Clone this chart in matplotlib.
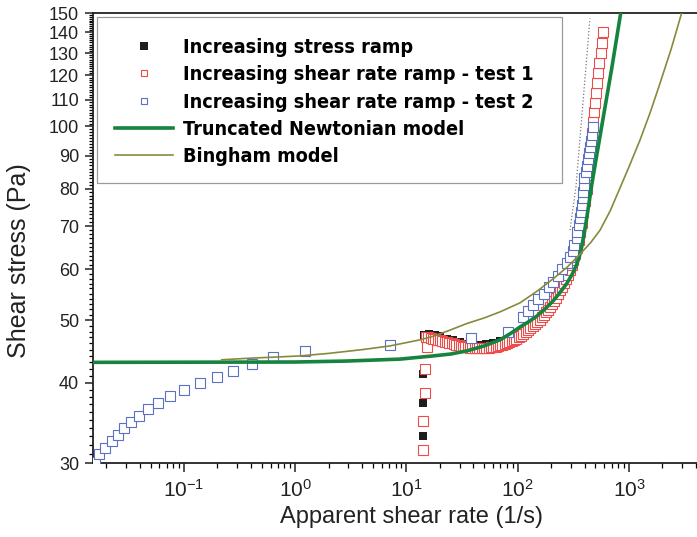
"""
Shear stress vs apparent shear rate (log-log), ramp tests and model fits
"""
import matplotlib

matplotlib.use("Agg")
import matplotlib.pyplot as plt
from matplotlib import font_manager as fm
from matplotlib.lines import Line2D
from matplotlib.patches import Rectangle
from matplotlib.ticker import LogLocator, LogFormatterSciNotation, NullFormatter

plt.rcParams["font.family"] = ["Liberation Sans", "DejaVu Sans"]

# increasing stress ramp (filled black squares)
stress_x = [14.1, 14.1, 14.2, 14.5, 16.0, 18.0, 20.0, 23.0, 26.0, 30.0, 34.0, 38.5, 45.0, 52.0, 60.0, 70.0, 85.0]
stress_y = [33.0, 37.2, 41.2, 47.5, 47.6, 47.4, 47.2, 46.8, 46.5, 46.2, 45.9, 45.6, 45.7, 45.85, 46.0, 46.4, 47.0]

# increasing shear rate ramp - test 1 (open red squares)
test1_x = [14.0, 14.2, 14.7, 14.7, 15.2,
           15.0, 15.7, 16.5, 17.3, 18.2, 19.1, 20.0, 21.0, 22.0, 23.1, 24.2, 25.4, 26.7, 28.0, 29.4,
           30.8, 32.3, 33.9, 35.6, 37.3, 39.2, 41.1, 43.1, 45.2, 47.4, 49.7, 52.2, 54.7, 57.4, 60.2,
           63.2, 66.3, 69.5, 72.9, 76.5, 80.3, 84.2, 88.3, 92.7, 97.2, 102, 107, 112, 118, 124,
           130, 136, 143, 150, 157, 165, 172, 180, 188, 196, 205, 214, 223, 232, 242, 252, 262,
           272, 283, 294, 305, 316, 328, 340, 352, 364, 377, 390, 403, 416, 430, 443, 457, 466,
           472, 483, 494, 505, 517, 529, 541, 555, 570, 588]
test1_y = [31.4, 34.9, 38.5, 42.0, 45.5,
           47.1, 47.0, 46.9, 46.8, 46.7, 46.6, 46.5, 46.4, 46.3, 46.2, 46.1, 46.0, 45.9, 45.8, 45.7,
           45.6, 45.5, 45.4, 45.35, 45.3, 45.25, 45.2, 45.2, 45.2, 45.2, 45.2, 45.25, 45.3, 45.35, 45.4,
           45.5, 45.6, 45.7, 45.8, 45.9, 46.0, 46.2, 46.4, 46.6, 46.8, 47.0, 47.3, 47.6, 48.0, 48.3,
           48.6, 48.9, 49.3, 49.7, 50.1, 50.5, 50.9, 51.4, 51.9, 52.4, 53.0, 53.6, 54.2, 54.9, 55.6, 56.3, 57.1,
           57.9, 58.8, 59.8, 60.8, 62.0, 63.3, 64.8, 66.5, 68.5, 70.8, 73.5, 76.5, 80.0, 84.0, 88.5, 93.5, 97.5,
           101.6, 105.1, 108.8, 112.7, 116.9, 121.1, 125.5, 130.1, 134.8, 140.2]

# increasing shear rate ramp - test 2 (open blue squares)
test2_x = [0.0160, 0.0172, 0.0195, 0.0223, 0.0256, 0.0287, 0.0334, 0.0394, 0.0475, 0.058, 0.0748,
           0.100, 0.139, 0.198, 0.277, 0.406, 0.636, 1.22, 7.1, 37.8, 82,
           112, 124, 138, 153, 172, 191, 209, 231, 248, 275, 295, 312, 322, 339, 343, 357, 363,
           370, 376, 384, 388, 394, 396, 411, 422, 431, 440, 446, 453, 462, 472]
test2_y = [30.1, 31.0, 31.7, 32.45, 33.2, 34.0, 34.8, 35.5, 36.4, 37.2, 38.1,
           38.9, 39.9, 40.8, 41.7, 42.8, 43.8, 44.8, 45.8, 46.9, 48.0,
           50.6, 51.7, 52.8, 53.9, 55.0, 56.2, 57.4, 58.5, 60.0, 61.3, 62.6, 64.0, 65.4, 67.0, 68.6, 70.3, 72.0,
           73.7, 75.5, 77.3, 79.1, 81.1, 83.0, 85.0, 86.9, 88.9, 90.8, 92.9, 94.9, 97.1, 99.8]

# truncated Newtonian model
newt_x = [0.0152, 1.0, 2.9, 8.74, 13.2, 17.4, 25, 34.8, 50, 69.2, 85, 105, 125, 148, 175, 209, 240,
          276, 310, 339, 360, 376, 395, 417, 440, 462, 500, 600, 700, 842]
newt_y = [43.0, 43.05, 43.2, 43.5, 43.8, 44.0, 44.3, 44.8, 45.6, 46.6, 47.6, 48.8, 49.7, 50.7, 52.0, 53.6, 55.2,
          57.0, 59.0, 61.0, 63.0, 65.0, 68.0, 72.0, 76.5, 81.0, 87.8, 105.5, 123.0, 149.8]

# Bingham model
bing_x = [0.218, 0.4, 0.73, 1.1, 2.0, 4.0, 7.1, 13.2, 17.4, 25, 34.8, 50, 69.2, 105, 150, 209, 280,
          350, 450, 550, 680, 830, 1000, 1256, 1550, 1900, 2400, 2977]
bing_y = [43.4, 43.65, 43.85, 44.0, 44.4, 45.0, 45.6, 46.6, 47.2, 48.3, 49.4, 50.4, 51.5, 53.2, 55.5, 58.0, 60.5,
          62.9, 65.9, 69.0, 74.0, 80.2, 86.5, 95.2, 105.0, 116.6, 132.0, 150.0]

# dotted guide line
dot_x = [295, 334, 446]
dot_y = [69.0, 80.6, 147.1]

labels = [
    "Increasing stress ramp",
    "Increasing shear rate ramp - test 1",
    "Increasing shear rate ramp - test 2",
    "Truncated Newtonian model",
    "Bingham model",
]

c_green = "#15843f"
c_olive = "#878a3c"
c_red = "#ee4b4b"
c_blue = "#5b70c2"


def narrow_bold():
    """Find a condensed bold face for the legend, with a font size to suit it."""
    fonts = fm.fontManager.ttflist
    bold = [f for f in fonts if f.weight in (600, 700, 800, "bold", "semibold") and f.style == "normal"]
    for f in bold:
        if f.name == "Liberation Sans Narrow":
            return fm.FontProperties(fname=f.fname), 18.0
    for f in bold:
        if f.name == "DejaVu Sans" and "ondensed" in f.fname:
            return fm.FontProperties(fname=f.fname), 14.2
    for f in bold:
        if "ondensed" in f.fname or "Narrow" in f.fname:
            return fm.FontProperties(fname=f.fname), 16.0
    return fm.FontProperties(family="DejaVu Sans", weight="bold"), 13.0


fig = plt.figure(figsize=(6.97, 5.37), dpi=100)
ax = fig.add_axes([93 / 697, 74 / 537, 604 / 697, 450 / 537])
ax.set_xscale("log")
ax.set_yscale("log")

ax.plot(stress_x, stress_y, "s", color="#1e1e1e", ms=5.8, mew=0, zorder=2)
ax.plot(test1_x, test1_y, "s", mfc="white", mec=c_red, ms=6.5, mew=0.8, zorder=3)
ax.plot(test2_x, test2_y, "s", mfc="white", mec=c_blue, ms=6.5, mew=0.8, zorder=4)
ax.plot(newt_x, newt_y, "-", color=c_green, lw=2.6, zorder=5)
ax.plot(bing_x, bing_y, "-", color=c_olive, lw=1.2, zorder=6)
ax.plot(dot_x, dot_y, ":", color="#777777", lw=0.9, zorder=6)

ax.set_xlim(0.0152, 4090)
ax.set_ylim(30, 150)

yt = list(range(30, 151, 10))
ax.set_yticks(yt)
ax.set_yticklabels([str(v) for v in yt])
ax.set_yticks([v for v in range(30, 151) if v % 10], minor=True)
ax.yaxis.set_minor_formatter(NullFormatter())

ax.xaxis.set_major_locator(LogLocator(base=10))
ax.xaxis.set_major_formatter(LogFormatterSciNotation())
ax.xaxis.set_minor_locator(LogLocator(base=10, subs=range(2, 10)))
ax.xaxis.set_minor_formatter(NullFormatter())

ax.tick_params(axis="y", which="major", direction="out", length=6, width=1.1, labelsize=13, pad=4, colors="#222222")
ax.tick_params(axis="y", which="minor", direction="out", length=3, width=0.9)
ax.tick_params(axis="x", which="major", direction="out", length=6.5, width=1.1, labelsize=15, pad=5, colors="#222222")
ax.tick_params(axis="x", which="minor", direction="out", length=3.5, width=0.9)
ax.tick_params(top=False, right=False)

for s in ["left", "bottom", "top"]:
    ax.spines[s].set_linewidth(1.3)
    ax.spines[s].set_color("#222222")
ax.spines["right"].set_visible(False)

ax.set_ylabel("Shear stress (Pa)", fontsize=18, color="#222222")
ax.set_xlabel("Apparent shear rate (1/s)", fontsize=17, color="#222222")
ax.yaxis.set_label_coords(-0.103, 0.45)
ax.xaxis.set_label_coords(0.5265, -0.095)

# legend frame drawn as a plain box, entries placed inside it
box = Rectangle((4 / 604, (463 - 183) / 450), 465 / 604, 166 / 450, transform=ax.transAxes,
                facecolor="white", edgecolor="#9a9a9a", lw=0.9, zorder=7)
ax.add_patch(box)

lprop, lsize = narrow_bold()
lprop.set_size(lsize)
fs_px = lsize * 100 / 72.0

handles = [
    Line2D([], [], marker="s", ls="none", color="#1e1e1e", ms=5.8, mew=0),
    Line2D([], [], marker="s", ls="none", mfc="white", mec=c_red, ms=5, mew=0.8),
    Line2D([], [], marker="s", ls="none", mfc="white", mec=c_blue, ms=5, mew=0.8),
    Line2D([], [], color=c_green, lw=2.6),
    Line2D([], [], color=c_olive, lw=1.2),
]
leg = ax.legend(
    handles,
    labels,
    loc="center left",
    bbox_to_anchor=((115 - 93) / 604, (463 - 102) / 450),
    borderaxespad=0,
    borderpad=0,
    frameon=False,
    handlelength=58 / fs_px,
    handletextpad=10 / fs_px,
    labelspacing=(31.5 - 1.17 * fs_px) / fs_px,
    prop=lprop,
)
leg.set_zorder(8)

fig.savefig("out.png", dpi=100)
